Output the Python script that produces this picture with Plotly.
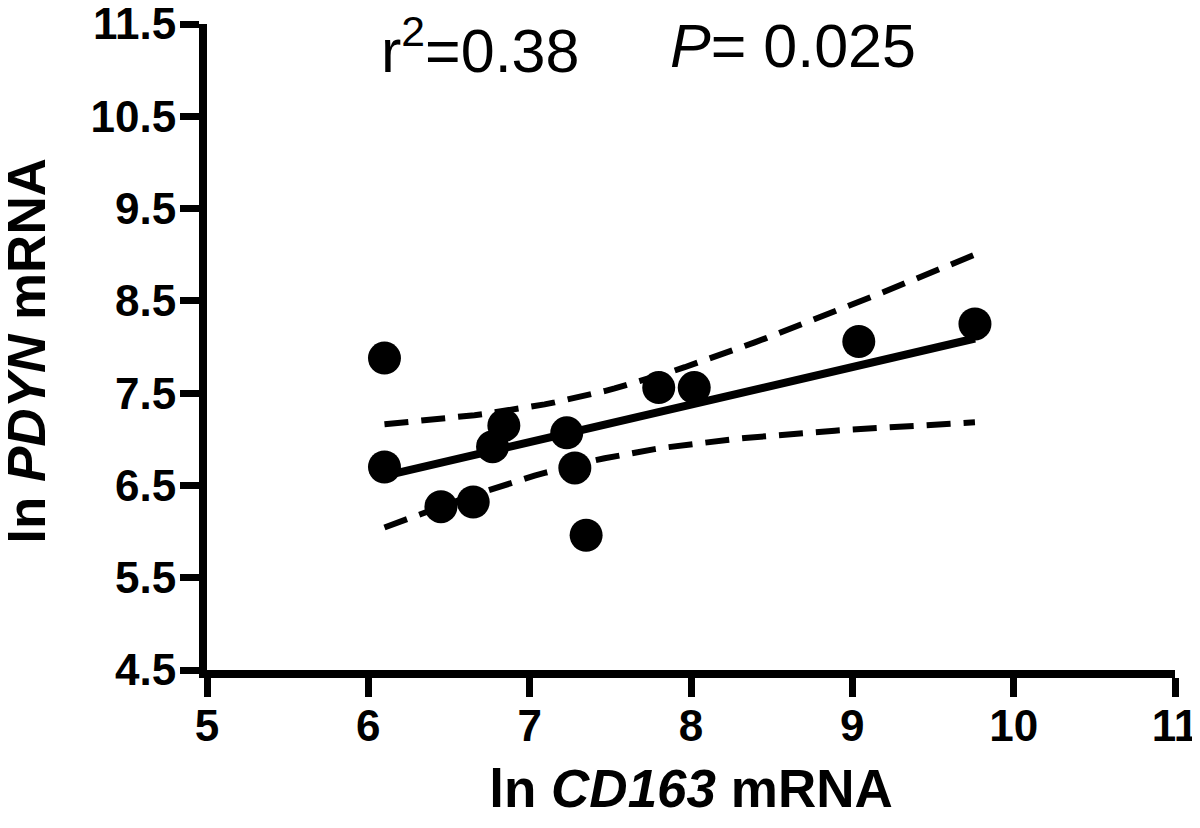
import numpy as np
import plotly.graph_objects as go

# Data
cd163 = [6.10, 6.10, 6.45, 6.65, 6.77, 6.84, 7.23, 7.28, 7.35, 7.80, 8.02, 9.04, 9.76]
pdyn = [7.88, 6.70, 6.27, 6.32, 6.92, 7.15, 7.07, 6.69, 5.96, 7.56, 7.56, 8.06, 8.25]
x_ticks = [5, 6, 7, 8, 9, 10, 11]
y_ticks = [4.5, 5.5, 6.5, 7.5, 8.5, 9.5, 10.5, 11.5]
r2_text = "r<sup>2</sup>=0.38"
p_text = "<i>P</i>= 0.025"
x_title = "ln <i>CD163</i> mRNA"
y_title = "ln <i>PDYN</i> mRNA"
t_crit = 2.201  # t(0.975, df=11)

x = np.array(cd163)
y = np.array(pdyn)
n = len(x)
slope, intercept = np.polyfit(x, y, 1)
resid = y - (slope * x + intercept)
s = np.sqrt(np.sum(resid ** 2) / (n - 2))
sxx = np.sum((x - x.mean()) ** 2)
xf = np.linspace(x.min(), x.max(), 60)
yf = slope * xf + intercept
se = s * np.sqrt(1.0 / n + (xf - x.mean()) ** 2 / sxx)
upper = yf + t_crit * se
lower = yf - t_crit * se

FONT = "Liberation Sans, Arial, Helvetica, sans-serif"

fig = go.Figure()
fig.add_trace(go.Scatter(x=xf, y=upper, mode="lines",
                         line=dict(color="black", width=6, dash="24px,13px"),
                         hoverinfo="skip", showlegend=False))
fig.add_trace(go.Scatter(x=xf, y=lower, mode="lines",
                         line=dict(color="black", width=6, dash="24px,13px"),
                         hoverinfo="skip", showlegend=False))
fig.add_trace(go.Scatter(x=xf, y=yf, mode="lines",
                         line=dict(color="black", width=8),
                         hoverinfo="skip", showlegend=False))
fig.add_trace(go.Scatter(x=cd163, y=pdyn, mode="markers",
                         marker=dict(color="black", size=33, line=dict(width=0)),
                         showlegend=False))

fig.add_annotation(x=0.178, xref="paper", y=1, yref="paper", xanchor="left",
                   yanchor="middle", yshift=-22, text=r2_text, showarrow=False,
                   font=dict(family=FONT, size=61, color="black"))
fig.add_annotation(x=0.476, xref="paper", y=1, yref="paper", xanchor="left",
                   yanchor="middle", yshift=-22, text=p_text, showarrow=False,
                   font=dict(family=FONT, size=61, color="black"))
# y-axis title placed as a rotated annotation so it can sit close to the left edge
fig.add_annotation(x=-0.186, xref="paper", y=0.494, yref="paper", xanchor="center",
                   yanchor="middle", textangle=-90, text=y_title, showarrow=False,
                   font=dict(family=FONT, size=53, color="black", weight="bold"))

axis_common = dict(showgrid=False, zeroline=False, showline=True, linecolor="black",
                   linewidth=8, ticks="outside", ticklen=19, tickwidth=7,
                   tickcolor="black", ticklabeloverflow="allow", automargin=False,
                   tickfont=dict(family=FONT, size=44, color="black", weight="bold"))

fig.update_xaxes(range=[5, 11], tickvals=x_ticks, ticktext=[str(v) for v in x_ticks],
                 ticklabelstandoff=-9,
                 title=dict(text=x_title, standoff=24,
                            font=dict(family=FONT, size=53, color="black", weight="bold")),
                 **axis_common)
fig.update_yaxes(range=[4.5, 11.5], tickvals=y_ticks, ticktext=[str(v) for v in y_ticks],
                 ticklabelstandoff=-5,
                 **axis_common)

# page body has an 8px margin, so the figure is sized/offset to compensate
fig.update_layout(width=1192, height=820, plot_bgcolor="white", paper_bgcolor="white",
                  margin=dict(l=199, r=25, t=16, b=158), showlegend=False)

fig.write_html("out.html")
